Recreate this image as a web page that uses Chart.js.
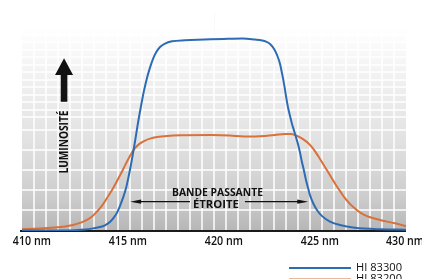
<!DOCTYPE html>
<html>
<head>
<meta charset="utf-8">
<script src="https://cdn.jsdelivr.net/npm/chart.js@4.4.0/dist/chart.umd.min.js"></script>
<style>
  html, body { margin: 0; padding: 0; background: #fff; }
</style>
</head>
<body>
<canvas id="chart" width="422" height="279"></canvas>
<script>
// ===== Dados =====
const xTicks = [410, 415, 420, 425, 430];

const blueNm  = [410, 410.99, 411.98, 412.76, 413.28, 413.7, 414.06, 414.32, 414.58, 414.79, 414.95,
                 415.1, 415.26, 415.42, 415.57, 415.73, 415.89, 416.04, 416.2, 416.35, 416.51,
                 416.67, 416.82, 416.98, 417.19, 417.45, 417.81, 418.49, 419.5, 420.5, 421.5,
                 422.14, 422.5, 422.71, 422.92, 423.13, 423.28, 423.44, 423.54, 423.65, 423.75,
                 423.85, 423.96, 424.06, 424.17, 424.27, 424.38, 424.48, 424.58, 424.69, 424.79,
                 424.9, 425.0, 425.16, 425.36, 425.63, 426.04, 426.56, 427.34, 428.65, 430];
const blueLum = [0.2, 0.2, 0.2, 0.4, 0.7, 1.2, 1.8, 2.6, 4.1, 6.2, 8.4,
                 11.4, 15.1, 19.6, 25.6, 32.9, 41.1, 49.3, 57.1, 63.9, 69.9,
                 74.7, 78.5, 81.5, 84.0, 85.6, 86.6, 87.1, 87.4, 87.7, 87.9,
                 87.4, 87.0, 86.5, 85.4, 83.1, 80.4, 76.3, 72.1, 67.1, 61.6,
                 56.6, 52.5, 49.0, 45.8, 42.8, 39.5, 35.8, 31.5, 27.4, 23.3,
                 19.6, 16.4, 12.8, 9.6, 6.8, 4.3, 2.7, 1.5, 0.8, 0.6];

const orangeNm  = [410, 410.94, 411.72, 412.24, 412.66, 413.02, 413.33, 413.65, 413.91, 414.17,
                   414.43, 414.69, 414.95, 415.21, 415.47, 415.68, 415.89, 416.15, 416.41, 416.67,
                   417.03, 417.55, 418.23, 419.84, 420.83, 421.56, 422.14, 422.66, 423.18, 423.7,
                   424.01, 424.27, 424.48, 424.69, 424.9, 425.1, 425.31, 425.52, 425.73, 425.94,
                   426.15, 426.35, 426.56, 426.82, 427.08, 427.34, 427.6, 427.97, 428.39, 428.91,
                   429.43, 430];
const orangeLum = [0.8, 1.1, 1.6, 2.1, 2.7, 3.7, 4.8, 6.6, 8.9, 11.6,
                   15.1, 18.7, 22.8, 27.2, 31.7, 35.2, 37.9, 40.0, 41.3, 42.2,
                   42.9, 43.4, 43.7, 43.8, 43.6, 43.2, 43.2, 43.4, 43.8, 44.3,
                   44.3, 43.6, 42.7, 41.6, 40.2, 38.3, 35.8, 32.9, 29.9, 26.9,
                   23.9, 21.0, 18.3, 15.0, 12.4, 10.3, 8.5, 6.8, 5.6, 4.5,
                   3.5, 2.2];

const seriesNames = ['HI 83300', 'HI 83200'];

// grade do fundo
const xGridStep = 0.625;
const yGridTicks = [93.2, 89.5, 86.3, 82.6, 79.5, 75.8, 72.6, 68.9, 65.8, 62.1, 58.9, 55.3, 52.1,
                    46.1, 37.0, 27.9, 18.7, 9.6];

const toPts = (xs, ys) => xs.map((x, i) => ({ x, y: ys[i] }));

// texto comprimido para caber numa largura
function fitText(ctx, text, x, y, w) {
  const m = ctx.measureText(text).width;
  ctx.save();
  ctx.translate(x, y);
  ctx.scale(w / m, 1);
  ctx.fillText(text, 0, 0);
  ctx.restore();
}

// ===== Fundo + grade =====
const backgroundPlugin = {
  id: 'fundo',
  beforeDatasetsDraw(chart) {
    const { ctx, chartArea: a, scales: { x, y } } = chart;
    ctx.save();
    const g = ctx.createLinearGradient(0, a.top, 0, a.bottom);
    g.addColorStop(0, '#ffffff');
    g.addColorStop(0.07, '#ffffff');
    g.addColorStop(0.3, '#f1f1f1');
    g.addColorStop(0.6, '#e1e1e1');
    g.addColorStop(0.85, '#cccccc');
    g.addColorStop(1, '#b6b6b6');
    ctx.fillStyle = g;
    ctx.fillRect(a.left, a.top, a.right - a.left, a.bottom - a.top);

    // linha fraca em 420 nm no topo
    ctx.strokeStyle = '#e6e6e6';
    ctx.lineWidth = 1;
    const x420 = Math.round(x.getPixelForValue(420)) + 0.5;
    ctx.beginPath();
    ctx.moveTo(x420, a.top);
    ctx.lineTo(x420, a.top + 25);
    ctx.stroke();

    ctx.strokeStyle = '#ffffff';
    ctx.lineWidth = 1.5;
    for (let v = x.min + xGridStep; v < x.max; v += xGridStep) {
      const px = x.getPixelForValue(v);
      ctx.beginPath();
      ctx.moveTo(px, a.top);
      ctx.lineTo(px, a.bottom);
      ctx.stroke();
    }
    yGridTicks.forEach(v => {
      const py = y.getPixelForValue(v);
      ctx.beginPath();
      ctx.moveTo(a.left, py);
      ctx.lineTo(a.right, py);
      ctx.stroke();
    });

    // eixo
    ctx.strokeStyle = '#1b1b1b';
    ctx.lineWidth = 2;
    ctx.beginPath();
    ctx.moveTo(a.left - 2, a.bottom);
    ctx.lineTo(a.right, a.bottom);
    ctx.stroke();
    ctx.restore();
  }
};

// ===== Textos, setas e legenda =====
const annotPlugin = {
  id: 'anotacoes',
  afterDraw(chart) {
    const { ctx, chartArea: a, scales: { x, y } } = chart;
    ctx.save();
    ctx.fillStyle = '#111';
    ctx.textBaseline = 'middle';

    // rótulos do eixo x: número centrado no tick (o último encosta na borda)
    ctx.font = '600 12px "Open Sans"';
    ctx.textAlign = 'left';
    xTicks.forEach(v => {
      const label = v + ' nm';
      const full = ctx.measureText(label).width;
      const num = ctx.measureText(String(v)).width;
      const s = 38 / full;
      const px = x.getPixelForValue(v);
      const left = Math.min(px - num * s / 2, chart.width + 2 - 38);
      ctx.save();
      ctx.translate(left, a.bottom + 11);
      ctx.scale(s, 1);
      ctx.fillText(label, 0, 0);
      ctx.restore();
    });

    // seta para cima + LUMINOSITÉ
    const ax = x.getPixelForValue(412.19);
    const tip = y.getPixelForValue(78.9);
    const head = y.getPixelForValue(71.2);
    const tail = y.getPixelForValue(59.0);
    ctx.beginPath();
    ctx.moveTo(ax, tip);
    ctx.lineTo(ax + 9, head);
    ctx.lineTo(ax + 3.3, head);
    ctx.lineTo(ax + 3.3, tail);
    ctx.lineTo(ax - 3.3, tail);
    ctx.lineTo(ax - 3.3, head);
    ctx.lineTo(ax - 9, head);
    ctx.closePath();
    ctx.fill();

    ctx.save();
    ctx.translate(ax + 0.7, y.getPixelForValue(40.6));
    ctx.rotate(-Math.PI / 2);
    ctx.font = 'bold 11.5px "Open Sans"';
    ctx.textAlign = 'center';
    fitText(ctx, 'LUMINOSITÉ', 0, 0, 63);
    ctx.restore();

    // BANDE PASSANTE ÉTROITE
    ctx.font = 'bold 11px "Open Sans"';
    ctx.textAlign = 'center';
    fitText(ctx, 'BANDE PASSANTE', x.getPixelForValue(420.18), y.getPixelForValue(17.4), 91);
    fitText(ctx, 'ÉTROITE', x.getPixelForValue(420.1), y.getPixelForValue(11.9), 46);

    const ay = y.getPixelForValue(13.4);
    const arrow = (from, to) => {
      const x1 = x.getPixelForValue(from), x2 = x.getPixelForValue(to);
      const d = Math.sign(x2 - x1);
      ctx.strokeStyle = '#111';
      ctx.lineWidth = 1.2;
      ctx.beginPath();
      ctx.moveTo(x1, ay);
      ctx.lineTo(x2 - d * 8, ay);
      ctx.stroke();
      ctx.beginPath();
      ctx.moveTo(x2, ay);
      ctx.lineTo(x2 - d * 11, ay - 2.2);
      ctx.lineTo(x2 - d * 11, ay + 2.2);
      ctx.closePath();
      ctx.fill();
    };
    arrow(418.75, 415.63);
    arrow(421.61, 424.91);

    // legenda
    ctx.font = '11px "Open Sans"';
    ctx.textAlign = 'left';
    chart.data.datasets.forEach((ds, i) => {
      const ly = 267.5 + i * 11.5;
      ctx.strokeStyle = ds.borderColor;
      ctx.lineWidth = 2;
      ctx.beginPath();
      ctx.moveTo(289, ly + 0.5);
      ctx.lineTo(351, ly + 0.5);
      ctx.stroke();
      ctx.fillStyle = '#111';
      fitText(ctx, ds.label, 356, ly, 46);
    });
    ctx.restore();
  }
};

new Chart(document.getElementById('chart'), {
  type: 'line',
  data: {
    datasets: [
      {
        label: seriesNames[0],
        data: toPts(blueNm, blueLum),
        borderColor: '#2d6cb5',
        borderWidth: 2,
        pointRadius: 0,
        cubicInterpolationMode: 'monotone',
        fill: false
      },
      {
        label: seriesNames[1],
        data: toPts(orangeNm, orangeLum),
        borderColor: '#d9713a',
        borderWidth: 2,
        pointRadius: 0,
        cubicInterpolationMode: 'monotone',
        fill: false
      }
    ]
  },
  options: {
    responsive: false,
    animation: false,
    layout: { padding: { left: 22, right: 16, top: 12, bottom: 48 } },
    plugins: { legend: { display: false }, tooltip: { enabled: false } },
    scales: {
      x: { type: 'linear', min: 410, max: 430, display: false },
      y: { min: 0, max: 100, display: false }
    }
  },
  plugins: [backgroundPlugin, annotPlugin]
});
</script>
</body>
</html>
